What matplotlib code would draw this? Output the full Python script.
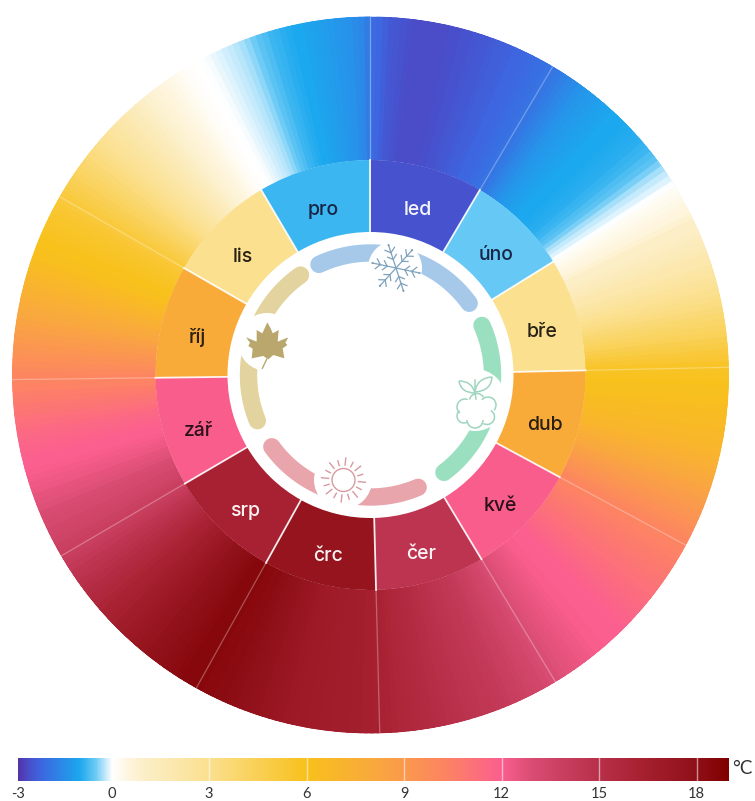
import numpy as np
import matplotlib
matplotlib.use("Agg")
import matplotlib.pyplot as plt
from matplotlib.colors import LinearSegmentedColormap, Normalize
from matplotlib.patches import Arc, Circle, Polygon, PathPatch
from matplotlib.path import Path

W, H = 755, 801
CX, CY = 370.5, 375.0
R_OUT, R_MID, R_IN = 358.5, 215.0, 143.0

MONTHS = ["led", "úno", "bře", "dub", "kvě", "čer", "črc", "srp", "zář", "říj", "lis", "pro"]
MONTH_MEANS = [-2.5, -0.55, 3.0, 7.9, 12.1, 14.7, 17.6, 16.3, 12.1, 7.9, 3.0, -0.8]
MONTH_TEXT = ["#ffffff", "#141d3c", "#1c1710", "#1c1710", "#1f0d14", "#ffffff", "#ffffff", "#ffffff",
              "#1f0d14", "#1c1710", "#1c1710", "#141d3c"]

JAN = [-2.1,-2.2,-2.3,-2.4,-2.45,-2.5,-2.55,-2.6,-2.6,-2.6,-2.6,-2.6,-2.6,-2.55,-2.55,-2.5,-2.5,-2.45,
       -2.4,-2.4,-2.35,-2.3,-2.3,-2.25,-2.2,-2.2,-2.15,-2.1,-2.05,-2.0,-1.95]
FEB = [-1.9,-1.8,-1.7,-1.6,-1.5,-1.4,-1.3,-1.25,-1.2,-1.15,-1.1,-1.05,-1.0,-1.0,-1.0,-0.97,-0.95,-0.92,
       -0.9,-0.85,-0.8,-0.7,-0.6,-0.45,-0.3,-0.2,-0.1,0.0]
MAR = [0.2,0.3,0.4,0.5,0.6,0.8,1.0,1.1,1.2,1.4,1.5,1.7,1.9,2.0,2.2,2.4,2.6,2.8,3.0,3.2,3.4,3.6,
       3.8,4.0,4.2,4.4,4.7,4.9,5.2,5.4,5.7]
APR = [5.8,5.9,6.0,6.1,6.1,6.2,6.3,6.4,6.5,6.6,6.7,6.8,6.9,7.0,7.2,7.4,7.6,7.8,8.0,8.2,8.4,8.6,
       8.8,9.0,9.2,9.4,9.6,9.8,10.0,10.2]
MAY = [10.3,10.4,10.5,10.6,10.7,10.8,10.9,11.0,11.1,11.2,11.3,11.4,11.5,11.6,11.7,11.8,11.9,12.0,
       12.0,12.0,12.0,12.1,12.1,12.2,12.3,12.4,12.5,12.6,12.7,12.8,12.9]
JUN = [13.0,13.2,13.4,13.5,13.6,13.8,13.9,14.0,14.2,14.3,14.4,14.5,14.5,14.6,14.7,14.8,14.9,15.0,
       15.1,15.2,15.3,15.4,15.5,15.6,15.7,15.8,15.9,16.0,16.1,16.2]
JUL = [16.4,16.5,16.5,16.6,16.6,16.7,16.7,16.7,16.8,16.8,16.9,16.9,17.0,17.0,17.1,17.2,17.3,17.4,
       17.5,17.6,17.7,17.8,17.9,18.0,18.1,18.2,18.3,18.3,18.4,18.4,18.5]
AUG = [18.5,18.5,18.5,18.4,18.3,18.2,18.1,18.0,17.9,17.8,17.6,17.5,17.3,17.2,17.0,16.8,16.7,16.5,
       16.3,16.2,16.0,15.8,15.6,15.4,15.2,15.0,14.8,14.6,14.4,14.2,14.0]
SEP = [13.9,13.8,13.6,13.5,13.4,13.2,13.1,13.0,12.8,12.7,12.6,12.4,12.3,12.2,12.1,12.0,12.0,11.9,
       11.8,11.7,11.6,11.5,11.3,11.2,11.0,10.9,10.7,10.6,10.4,10.3]
OCT = [10.2,10.0,9.8,9.6,9.4,9.2,9.0,8.8,8.6,8.4,8.2,8.0,7.8,7.6,7.4,7.2,7.0,6.8,6.6,6.4,6.2,6.1,
       6.0,6.0,5.9,5.8,5.7,5.6,5.5,5.4,5.2]
NOV = [5.1,4.9,4.7,4.5,4.3,4.1,3.9,3.7,3.5,3.3,3.1,2.9,2.7,2.5,2.3,2.1,1.9,1.7,1.5,1.3,1.1,0.9,
       0.8,0.7,0.6,0.5,0.4,0.3,0.2,0.1]
DEC = [0.05,0.02,0.0,-0.03,-0.06,-0.1,-0.15,-0.2,-0.25,-0.3,-0.4,-0.5,-0.6,-0.7,-0.8,-0.85,-0.9,-0.95,
       -1.0,-1.0,-1.05,-1.1,-1.15,-1.2,-1.25,-1.3,-1.35,-1.4,-1.5,-1.6,-1.8]
DAILY = [JAN, FEB, MAR, APR, MAY, JUN, JUL, AUG, SEP, OCT, NOV, DEC]

CMAP_STOPS = [(-3.0, "#5533a8"), (-2.88, "#5533a8"), (-2.6, "#4a4dc8"), (-2.2, "#3d66e0"), (-1.0, "#1ca8ee"),
              (-0.5, "#6ecbf5"), (0.0, "#ffffff"), (0.5, "#fef6e0"), (1.0, "#fcefc8"), (3.0, "#fbe08f"),
              (6.0, "#f8c11c"), (8.0, "#f9aa3c"), (10.3, "#fd8463"), (12.0, "#fb5f8f"), (13.0, "#d84c72"),
              (15.0, "#b8304a"), (16.5, "#a51f2e"), (18.0, "#8f1018"), (19.0, "#800000")]
TICKS = [-3, 0, 3, 6, 9, 12, 15, 18]
VMIN, VMAX = -3, 19
norm = Normalize(VMIN, VMAX)
cmap = LinearSegmentedColormap.from_list("t", [(norm(v), c) for v, c in CMAP_STOPS], N=1024)

fig = plt.figure(figsize=(W / 100, H / 100), dpi=100, facecolor="white")
ax = fig.add_axes([(CX - R_OUT) / W, (H - CY - R_OUT) / H, 2 * R_OUT / W, 2 * R_OUT / H], projection="polar")
ax.set_theta_zero_location("N")
ax.set_theta_direction(-1)
ax.set_ylim(0, R_OUT)
ax.axis("off")

lengths = [len(m) for m in DAILY]
total = sum(lengths)
values = np.concatenate(DAILY)
step = 2 * np.pi / total
starts = np.arange(total) * step
# each day's wedge runs under the next one, so no background shows through the seams
widths = np.full(total, step * 2.5)
widths[-3:] = (total - np.arange(total - 3, total)) * step
ax.bar(starts, R_OUT - R_MID, width=widths, bottom=R_MID, align="edge", color=cmap(norm(values)), linewidth=0)

edges = np.concatenate([[0], np.cumsum(lengths)]) * step
mids = (edges[:-1] + edges[1:]) / 2
ax.bar(mids, R_MID - R_IN, width=np.diff(edges), bottom=R_IN, color=cmap(norm(MONTH_MEANS)), linewidth=0)
for e in edges[:-1]:
    ax.plot([e, e], [R_MID, R_OUT], color="white", alpha=0.3, lw=0.9)
    ax.plot([e, e], [R_IN, R_MID], color="white", alpha=0.9, lw=1.3)
for m, a, c in zip(MONTHS, mids, MONTH_TEXT):
    ax.annotate(m, xy=(a, 179), xytext=(0, -5.5), textcoords="offset points", ha="center", va="center", color=c,
                fontsize=14, family="Inter", weight="medium", alpha=0.95)

# rounded season arcs
ARCS = [(-25, 8, "#a6c9ea"), (20, 54, "#a6c9ea"), (66, 100, "#9bdfc1"), (108, 143, "#9bdfc1"),
        (157, 195, "#e8a5ab"), (198, 234, "#e8a5ab"), (248, 282, "#e3d39e"), (290, 325, "#e3d39e")]
for a0, a1, col in ARCS:
    t = np.radians(np.linspace(a0, a1, 60))
    ax.plot(t, np.full_like(t, 122.0), color=col, lw=12.5, solid_capstyle="round")

# icon layer, in pixel units
ov = fig.add_axes([0, 0, 1, 1])
ov.set_xlim(0, W)
ov.set_ylim(H, 0)
ov.axis("off")
ov.patch.set_alpha(0)

for x, y, r in [(395, 268, 27), (475, 400, 31), (267, 342, 29), (343, 480, 29)]:
    ov.add_patch(Circle((x, y), r, fc="white", ec="none"))

# snowflake
sx, sy, sc = 396, 268, "#7fa3bd"
for k in range(6):
    a = np.radians(60 * k + 12)
    d = np.array([np.cos(a), np.sin(a)])
    ov.plot([sx, sx + 24 * d[0]], [sy, sy + 24 * d[1]], color=sc, lw=0.9)
    for dist, ln in [(9, 6), (16, 6.5)]:
        base = np.array([sx, sy]) + dist * d
        for s in (-1, 1):
            b = a + s * np.radians(50)
            ov.plot([base[0], base[0] + ln * np.cos(b)], [base[1], base[1] + ln * np.sin(b)], color=sc, lw=0.9)
    ov.add_patch(Circle((sx + 24 * d[0], sy + 24 * d[1]), 1.1, fc=sc, ec="none"))

# sun
ux, uy, uc = 343.5, 480, "#d79aa0"
ov.add_patch(Circle((ux, uy), 11.5, fc="none", ec=uc, lw=1.0))
for k in range(16):
    a = np.radians(22.5 * k + 6)
    r0, r1 = (15, 22) if k % 2 == 0 else (15, 20)
    ov.plot([ux + r0 * np.cos(a), ux + r1 * np.cos(a)], [uy + r0 * np.sin(a), uy + r1 * np.sin(a)], color=uc, lw=1.0)

# maple leaf
leaf = [(112, 277), (122, 295), (128, 310), (146, 300), (143, 335), (175, 322), (166, 338), (172, 345), (158, 355),
        (163, 385), (130, 375), (115, 388), (100, 378), (65, 385), (68, 356), (55, 348), (60, 338), (48, 322),
        (80, 335), (80, 300), (97, 310)]
leaf = [(230 + x / 3, 230 + y / 3) for x, y in leaf]
ov.add_patch(Polygon(leaf, closed=True, fc="#b9a76d", ec="none"))
ov.plot([230 + 110 / 3, 230 + 97 / 3], [230 + 388 / 3, 230 + 415 / 3], color="#b9a76d", lw=1)

# sprout
pc = "#9fd5bf"
for cx_, cy_, w, t1, t2 in [(465, 407, 16, 130, 290), (477, 401, 15, 190, 330), (488, 405, 16, 220, 400),
                            (487, 417, 15, 300, 480), (475, 420, 16, 0, 180), (464, 416, 14, 60, 230)]:
    ov.add_patch(Arc((cx_, cy_), w, w, theta1=t1, theta2=t2, ec=pc, lw=1.1))
ov.plot([475, 475, 476], [380, 392, 399], color=pc, lw=1.1)
for pts in [[(475, 393), (472, 381), (459, 381), (461, 393), (475, 393)],
            [(475, 392), (477, 378), (492, 377), (491, 391), (475, 392)]]:
    p0, c1, p1, c2, p2 = pts
    path = Path([p0, c1, p1, c2, p2], [Path.MOVETO, Path.CURVE3, Path.CURVE3, Path.CURVE3, Path.CURVE3])
    ov.add_patch(PathPatch(path, fc="none", ec=pc, lw=1.1))

# colour bar
cb = fig.add_axes([18 / W, (H - 781) / H, 711 / W, 23 / H])
lo = -2.88
cb.imshow(np.linspace(lo, 19, 800)[None, :], aspect="auto", cmap=cmap, norm=norm, extent=[lo, 19, 0, 1])
cb.set_xlim(lo, 19)
cb.set_yticks([])
for s in cb.spines.values():
    s.set_visible(False)
pos = [max(t, lo) for t in TICKS]
cb.set_xticks(pos, [str(t) for t in TICKS])
cb.tick_params(axis="x", length=0, pad=4, labelsize=10.5, labelcolor="#333333")
for lab in cb.get_xticklabels():
    lab.set_family("Lato")
for t in TICKS[2:]:
    cb.axvline(t, color="white", alpha=0.55, lw=1)
ov.text(742, 769, "°C", ha="center", va="center", fontsize=13.5, family="Lato", color="#333333")

fig.savefig("out.png", dpi=100, facecolor="white")
